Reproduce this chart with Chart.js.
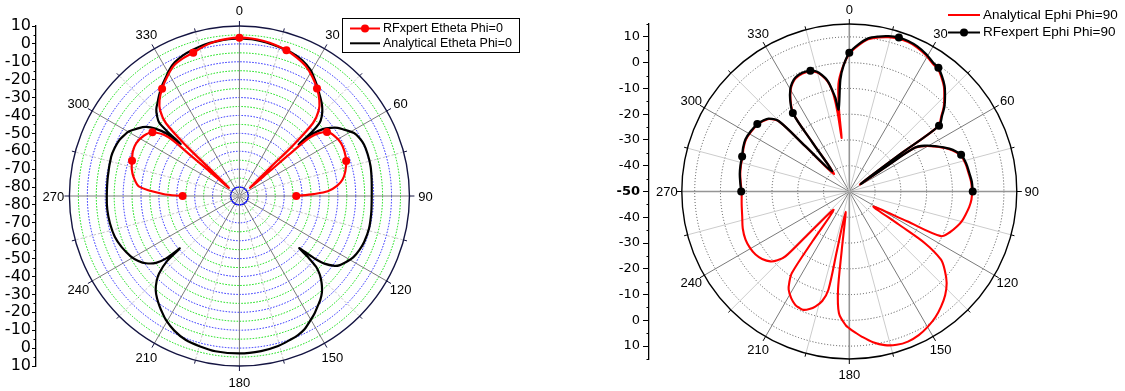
<!DOCTYPE html>
<html>
<head>
<meta charset="utf-8">
<script src="https://cdn.jsdelivr.net/npm/chart.js@4.4.1/dist/chart.umd.min.js"></script>
<style>
  html, body { margin: 0; padding: 0; background: #fff; }
  #wrap { position: relative; width: 1125px; height: 391px; overflow: hidden; }
  canvas { position: absolute; top: 0; }
  #left { left: 0; }
  #right { left: 560px; }
</style>
</head>
<body>
<div id="wrap">
  <canvas id="left" width="560" height="391"></canvas>
  <canvas id="right" width="565" height="391"></canvas>
</div>
<script>
// angle labels round both polar frames
const angleLabels = [0, 30, 60, 90, 120, 150, 180, 210, 240, 270, 300, 330];

// ---- left plot: E-theta, phi = 0 (dB) ----
const leftAxisDb = [10, 0, -10, -20, -30, -40, -50, -60, -70, -80];
const leftRingDb = [-80, -75, -70, -65, -60, -55, -50, -45, -40, -35, -30, -25, -20, -15, -10, -5, 0, 5];

const etAnalyticAngle = [0, 5, 10, 15, 20, 25, 29.5, 33, 36, 39, 41.8, 44, 46.2, 47.8, 48.8, 49.2, 49.8, 51.5, 53.5, 55.5, 57.8,
  61.4, 64.5, 67.7, 72, 77.3, 83, 90, 97, 104, 110, 114, 118, 122, 124.3, 126, 128.3, 129.6, 130.8, 131.5, 132.5, 134,
  135.4, 137.3, 139.3, 141.8, 144.4, 147, 149.7, 153.8, 157, 160, 165.4, 172, 180,
  188.9, 195, 200.7, 206, 210.9, 213.5, 216, 219, 221.9, 224.5, 226.3, 228.3, 228.9, 229.8, 231.5, 234.5, 237.5, 241,
  246.7, 252, 258.2, 264, 270, 278.3, 286.9, 291, 294.8, 297.5, 300, 303.5, 306.3, 308.5, 310.3, 311.2, 311.6, 312.2,
  313.8, 316, 318.5, 321, 324, 328, 331, 334, 338, 342, 347, 352, 356, 360];
const etAnalyticDb = [3.0, 2.8, 2.1, 1.2, 0.3, -1.3, -3.9, -7.2, -10.1, -13.0, -15.5, -17.8, -20.8, -24, -31, -41, -31.5, -25, -21, -17.8, -15.4,
  -11.5, -10, -9.2, -9.1, -9.3, -10.0, -10.5, -10.2, -9.8, -10.2, -11, -12.3, -14.8, -16.5, -18.6, -24, -30.5, -40.5, -33.5, -26.5, -22.3,
  -19.6, -16.5, -13.8, -11.3, -9.3, -7.1, -5.1, -2.0, -0.6, 0.2, 1.6, 2.5, 3.0,
  2.8, 1.9, 0.9, -1.3, -4.3, -6.5, -8.6, -11.3, -14.4, -18.5, -22.4, -30.5, -40.5, -31, -25, -20.3, -17.5, -15.2,
  -12.8, -11.2, -10.5, -10.2, -10.3, -10.1, -9.5, -9.8, -10.5, -11.7, -13, -16.5, -19.8, -24.5, -31, -41, -31.5, -24,
  -20.8, -17.6, -15.4, -13, -10.1, -6.8, -4.0, -1.9, -0.2, 0.8, 1.9, 2.4, 2.8, 3.0];

const etRfAngle = [-90, -88.5, -84.7, -80, -76, -72, -67.5, -63, -58, -54, -50.6, -50.4, -50.8, -52.4, -47.5, -46.9, -45.5, -43, -40,
  -36, -31.5, -27, -22.5, -18, -13.5, -9, -4.5, 0, 4.5, 9, 13.5, 18, 22.5, 27, 31.5, 36, 40, 43, 45.5, 46.9, 47.5,
  52.2, 50.8, 50.4, 50.6, 54, 58, 62.5, 67, 72, 77, 81, 84, 87, 88.5, 90];
const etRfDb = [-53, -42, -28.3, -24.5, -22.5, -21.4, -20, -19.8, -21.5, -24.4, -33, -48, -63, -77.5, -60.5, -44, -27, -19.5, -15,
  -10.9, -7, -3.4, -1.8, -0.8, 1.0, 2.4, 3.1, 3.5, 3.3, 2.7, 1.8, 0.6, -1.1, -3.2, -6.6, -10.7, -15, -19.5, -27, -44, -60.7,
  -77.5, -62.7, -47.9, -32.8, -24.1, -21.8, -20.6, -20.8, -21.8, -23.8, -26.2, -29.6, -35.2, -43.2, -53];

// ---- right plot: E-phi, phi = 90 (dB) ----
const rightAxisDb = [10, 0, -10, -20, -30, -40];
const rightRingDb = [-40, -30, -20, -10, 0, 10];

const epAnalyticAngle = [-90, -85.5, -81, -76.5, -72, -67.8, -63.5, -58.8, -54, -51, -48.1, -45.3, -44.4, -41.5, -37.2, -36, -33,
  -30.2, -28, -25.5, -21.8, -18, -16, -14.5, -12, -10.5, -9.3, -8.5, -8.2, -7.2, -5.8, -3, 0,
  3.6, 7.1, 10.7, 14.3, 18, 21.5, 25.3, 29.5, 33.3, 36, 39, 42.3, 45.3, 48.3, 51, 54, 53.9, 56.8, 56.1, 56.4, 59, 62.1,
  67, 72, 76.5, 81.2, 85.5, 90, 93.7, 97.4, 101.1, 104.3, 107.6, 111.7, 115.8, 117.1, 121.7, 123.5, 124.1, 126.4, 129.5,
  133, 137, 141.2, 145.4, 149.6, 154, 158.5, 162.7, 166.9, 171, 175.1, 177.5, 180, 181.5, 184.9, 186.6, 187.4, 190.5,
  191.9, 192.1, 194, 196.6, 198.9, 201.3, 203.5, 205.7, 208.8, 211.9, 213.7, 215.4, 216.7, 220.6, 224.2, 224.8, 226.5,
  228.7, 232.5, 236.3, 240.8, 245.3, 251, 257.1, 263.5, 270];
const epAnalyticDb = [-7.9, -7.4, -6.8, -6.4, -6.1, -5.3, -4.8, -5.1, -5.7, -6.6, -7.9, -11.6, -26, -41, -26.5, -12.8, -7.8,
  -4.4, -2.6, -1.3, -0.7, -1.0, -1.7, -2.7, -5.4, -8, -12, -19, -29, -18, -8, -1.6, 3.4,
  6.8, 9.5, 10.8, 11.8, 12.3, 12.4, 11.9, 10.8, 9.4, 8.9, 7.2, 5.0, 2.3, -0.5, -3.7, -7, -26, -45, -32, -19.6, -15.8, -12.6,
  -7.8, -4.3, -3.3, -2.8, -2.2, -2.0, -2.1, -2.7, -3.6, -4.4, -5.6, -7.5, -10.2, -24.6, -38.9, -26.8, -14.4, -5.4, -1.5,
  2.1, 5.0, 7.3, 9.3, 10.8, 12.0, 12.6, 12.3, 11.2, 9.2, 6.5, 4.8, 3.1, 2.0, -2.6, -11.6, -26.9, -42,
  -26.6, -11, -6.2, -3.4, -1.8, -0.7, -0.8, -1.2, -2.8, -5.1, -7.7, -11.2, -25.9, -40.6, -27.6, -14.5, -11.2,
  -8.9, -7, -5.9, -5.4, -5.3, -5.9, -7, -7.6, -7.9];

const epRfAngle = [-90, -85.5, -81, -76.5, -72, -67.8, -63.5, -58.8, -54, -51, -48.1, -45.3, -44.4, -41, -37.2, -36, -33,
  -30.2, -28, -25.5, -21.8, -18, -16, -14.5, -12, -10.8, -9.8, -8.5, -7.5, -4.6, -2.7, 0,
  3.6, 7.1, 10.7, 14.3, 18, 21.5, 25.3, 29.5, 33.3, 36, 39, 42.3, 45.3, 48.3, 51, 54, 53.9, 56.6, 56.1, 56.4, 59, 62.1,
  67, 72, 76.5, 81.2, 85.5, 90];
const epRfDb = [-7.7, -7.2, -6.6, -6.2, -5.9, -5.1, -4.6, -4.9, -5.5, -6.4, -7.6, -11.1, -25.4, -39.7, -26, -12.4, -7.5,
  -4.1, -2.3, -1.0, -0.4, -0.7, -1.4, -2.4, -5, -7, -9.7, -13.3, -17.9, -6.4, -1.2, 3.8,
  7.2, 9.9, 11.2, 12.2, 12.8, 12.8, 12.3, 11.2, 9.8, 9.3, 7.6, 5.4, 2.7, -0.1, -3.3, -6.6, -25.4, -44.6, -31.7, -19.3, -15.5, -12.3,
  -7.5, -4, -3, -2.5, -1.9, -1.7];

// polar (deg from top, clockwise) -> x/y in radial units above the centre level
function polarPoints(angles, dbs, centerDb) {
  return angles.map((a, i) => {
    const r = Math.max(0, dbs[i] - centerDb);
    const t = a * Math.PI / 180;
    return { x: r * Math.sin(t), y: r * Math.cos(t) };
  });
}

// rings, spokes, outer circle, angle labels, minor axis ticks and legend
function polarFrame(f) {
  return {
    id: 'polarFrame',
    beforeDatasetsDraw(chart) {
      const { ctx } = chart;
      const xs = chart.scales.x, ys = chart.scales.y;
      const cx = xs.getPixelForValue(0), cy = ys.getPixelForValue(0);
      const rad = db => cy - ys.getPixelForValue(db - f.centerDb);
      const R = rad(f.outerDb);
      ctx.save();
      f.rings.forEach(db => {
        const st = f.ringStyle(db);
        ctx.beginPath();
        ctx.setLineDash(st.dash);
        ctx.strokeStyle = st.color;
        ctx.lineWidth = st.width;
        ctx.arc(cx, cy, rad(db), 0, Math.PI * 2);
        ctx.stroke();
      });
      for (let a = 0; a < 360; a += 15) {
        const st = f.spokeStyle(a);
        const t = a * Math.PI / 180;
        ctx.beginPath();
        ctx.setLineDash(st.dash);
        ctx.strokeStyle = st.color;
        ctx.lineWidth = st.width;
        ctx.moveTo(cx, cy);
        ctx.lineTo(cx + R * Math.sin(t), cy - R * Math.cos(t));
        ctx.stroke();
        // tick on the rim
        const len = a % 30 === 0 ? 5 : 3.5;
        ctx.beginPath();
        ctx.setLineDash([]);
        ctx.strokeStyle = f.rimColor;
        ctx.lineWidth = 1;
        ctx.moveTo(cx + R * Math.sin(t), cy - R * Math.cos(t));
        ctx.lineTo(cx + (R + len) * Math.sin(t), cy - (R + len) * Math.cos(t));
        ctx.stroke();
      }
      ctx.beginPath();
      ctx.setLineDash([]);
      ctx.strokeStyle = f.rimColor;
      ctx.lineWidth = 1.4;
      ctx.arc(cx, cy, R, 0, Math.PI * 2);
      ctx.stroke();

      ctx.fillStyle = '#000';
      ctx.font = f.angleFont;
      ctx.textAlign = 'center';
      ctx.textBaseline = 'middle';
      angleLabels.forEach(a => {
        const t = a * Math.PI / 180;
        const d = R + f.labelGap;
        ctx.fillText(String(a), cx + d * Math.sin(t), cy - d * Math.cos(t) + 1);
      });

      // minor ticks on the dB axis
      const ax = chart.chartArea.left;
      ctx.strokeStyle = '#000';
      ctx.lineWidth = 1;
      f.minorTicks.forEach(v => {
        const py = Math.round(ys.getPixelForValue(v)) + 0.5;
        ctx.beginPath();
        ctx.moveTo(ax, py);
        ctx.lineTo(ax - 2.5, py);
        ctx.stroke();
      });
      ctx.restore();
    },
    afterDraw(chart) {
      const { ctx } = chart;
      const lg = f.legend;
      ctx.save();
      if (lg.box) {
        ctx.fillStyle = '#fff';
        ctx.fillRect(lg.box[0], lg.box[1], lg.box[2], lg.box[3]);
        ctx.strokeStyle = '#000';
        ctx.lineWidth = 1;
        ctx.strokeRect(lg.box[0] + 0.5, lg.box[1] + 0.5, lg.box[2], lg.box[3]);
      }
      ctx.font = lg.font;
      ctx.textBaseline = 'middle';
      ctx.textAlign = 'left';
      lg.order.forEach((di, i) => {
        const ds = chart.data.datasets[di];
        const y = lg.y0 + i * lg.dy;
        ctx.strokeStyle = ds.borderColor;
        ctx.lineWidth = 2;
        ctx.beginPath();
        ctx.moveTo(lg.x0, y);
        ctx.lineTo(lg.x1, y);
        ctx.stroke();
        if (ds.markers) {
          ctx.fillStyle = ds.borderColor;
          ctx.beginPath();
          ctx.arc((lg.x0 + lg.x1) / 2, y, 4, 0, Math.PI * 2);
          ctx.fill();
        }
        ctx.fillStyle = '#000';
        ctx.fillText(ds.label, lg.tx, y);
      });
      ctx.restore();
    }
  };
}

function polarChart(el, f, datasets) {
  const half = f.outerDb - f.centerDb;
  const ppu = (f.bottom - f.top) / (2 * half);
  const tickVals = [];
  f.axisDb.forEach(db => { tickVals.push(db - f.centerDb); tickVals.push(f.centerDb - db); });
  if (f.labelCentre) tickVals.push(0);
  tickVals.sort((a, b) => a - b);
  return new Chart(document.getElementById(el), {
    type: 'scatter',
    data: { datasets },
    options: {
      responsive: false,
      animation: false,
      events: [],
      layout: { padding: { top: f.top, bottom: 391 - f.bottom, left: 0, right: 0 } },
      plugins: { legend: { display: false }, tooltip: { enabled: false } },
      elements: { line: { borderJoinStyle: 'round', borderCapStyle: 'round' } },
      scales: {
        x: {
          type: 'linear', display: false,
          min: -(f.cx - f.axisX) / ppu,
          max: (f.width - f.cx) / ppu
        },
        y: {
          type: 'linear', min: -half, max: half,
          afterBuildTicks: s => { s.ticks = tickVals.map(v => ({ value: v })); },
          afterFit: s => { s.width = f.axisX; },
          grid: { drawOnChartArea: false, tickLength: f.tickLength, color: '#000', tickWidth: 1 },
          border: { color: '#000', width: 1.3 },
          ticks: {
            autoSkip: false,
            color: '#000',
            padding: f.tickPad,
            font: c => (c.tick && c.tick.value === 0 ? f.centreFont : f.axisFont),
            callback: v => String(f.centerDb + Math.abs(v))
          }
        }
      }
    },
    plugins: [polarFrame(f)]
  });
}

// left chart
const leftFrame = {
  centerDb: -85, outerDb: 10, top: 26, bottom: 366, axisX: 36, cx: 241, width: 560,
  axisDb: leftAxisDb, labelCentre: false, tickLength: 4, tickPad: 1,
  axisFont: { family: 'DejaVu Sans', size: 16 },
  centreFont: { family: 'DejaVu Sans', size: 16 },
  minorTicks: [-90, -80, -70, -60, -50, -40, -30, -20, -10, 0, 10, 20, 30, 40, 50, 60, 70, 80, 90],
  rings: leftRingDb,
  ringStyle: db => db === -80
    ? { color: '#0000ff', width: 1.6, dash: [] }
    : (db % 10 === 0 ? { color: '#1f1fff', width: 1, dash: [1.5, 1.5] } : { color: '#00dd00', width: 1, dash: [1.5, 1.5] }),
  spokeStyle: a => a % 30 === 0
    ? { color: '#7a7a7a', width: 1, dash: [] }
    : { color: '#c4c4c4', width: 1, dash: [2.5, 2] },
  rimColor: '#141442',
  angleFont: '13px "Liberation Sans", Arial, sans-serif',
  labelGap: 16,
  legend: {
    box: [342, 18, 177, 34], x0: 350, x1: 380, tx: 383, y0: 28.5, dy: 14.8, order: [0, 1],
    font: '12.5px "Liberation Sans", Arial, sans-serif'
  }
};

polarChart('left', leftFrame, [
  {
    label: 'RFxpert Etheta Phi=0',
    data: polarPoints(etRfAngle, etRfDb, leftFrame.centerDb),
    showLine: true, borderColor: '#ff0000', backgroundColor: '#ff0000',
    borderWidth: 2.2, tension: 0.3, markers: true,
    pointRadius: c => (etRfAngle[c.dataIndex] % 18 === 0 ? 4 : 0),
    pointBorderWidth: 0
  },
  {
    label: 'Analytical Etheta Phi=0',
    data: polarPoints(etAnalyticAngle, etAnalyticDb, leftFrame.centerDb),
    showLine: true, borderColor: '#000000', backgroundColor: '#000000',
    borderWidth: 2.2, tension: 0.3, pointRadius: 0
  }
]);

// right chart
const rightFrame = {
  centerDb: -50, outerDb: 15, top: 24, bottom: 359, axisX: 89, cx: 291, width: 565,
  axisDb: rightAxisDb, labelCentre: true, tickLength: 6, tickPad: 3,
  axisFont: { family: 'DejaVu Sans', size: 13 },
  centreFont: { family: 'DejaVu Sans', size: 13, weight: 'bold' },
  minorTicks: [-65, -55, -45, -35, -25, -15, -5, 5, 15, 25, 35, 45, 55, 65],
  rings: rightRingDb,
  ringStyle: () => ({ color: '#4a4a4a', width: 1, dash: [1, 2] }),
  spokeStyle: a => a % 90 === 0
    ? { color: '#959595', width: 1.6, dash: [] }
    : (a % 30 === 0 ? { color: '#7a7a7a', width: 1, dash: [] } : { color: '#cccccc', width: 1, dash: [] }),
  rimColor: '#000000',
  angleFont: '13px "Liberation Sans", Arial, sans-serif',
  labelGap: 15,
  legend: {
    box: null, x0: 388, x1: 420, tx: 423, y0: 15, dy: 17.5, order: [1, 0],
    font: '13.5px "Liberation Sans", Arial, sans-serif'
  }
};

polarChart('right', rightFrame, [
  {
    label: 'RFexpert Ephi Phi=90',
    data: polarPoints(epRfAngle, epRfDb, rightFrame.centerDb),
    showLine: true, borderColor: '#000000', backgroundColor: '#000000',
    borderWidth: 2.3, tension: 0.3, markers: true,
    pointRadius: c => (epRfAngle[c.dataIndex] % 18 === 0 ? 4 : 0),
    pointBorderWidth: 0
  },
  {
    label: 'Analytical Ephi Phi=90',
    data: polarPoints(epAnalyticAngle, epAnalyticDb, rightFrame.centerDb),
    showLine: true, borderColor: '#ff0000', backgroundColor: '#ff0000',
    borderWidth: 2.1, tension: 0.3, pointRadius: 0
  }
]);
</script>
</body>
</html>
